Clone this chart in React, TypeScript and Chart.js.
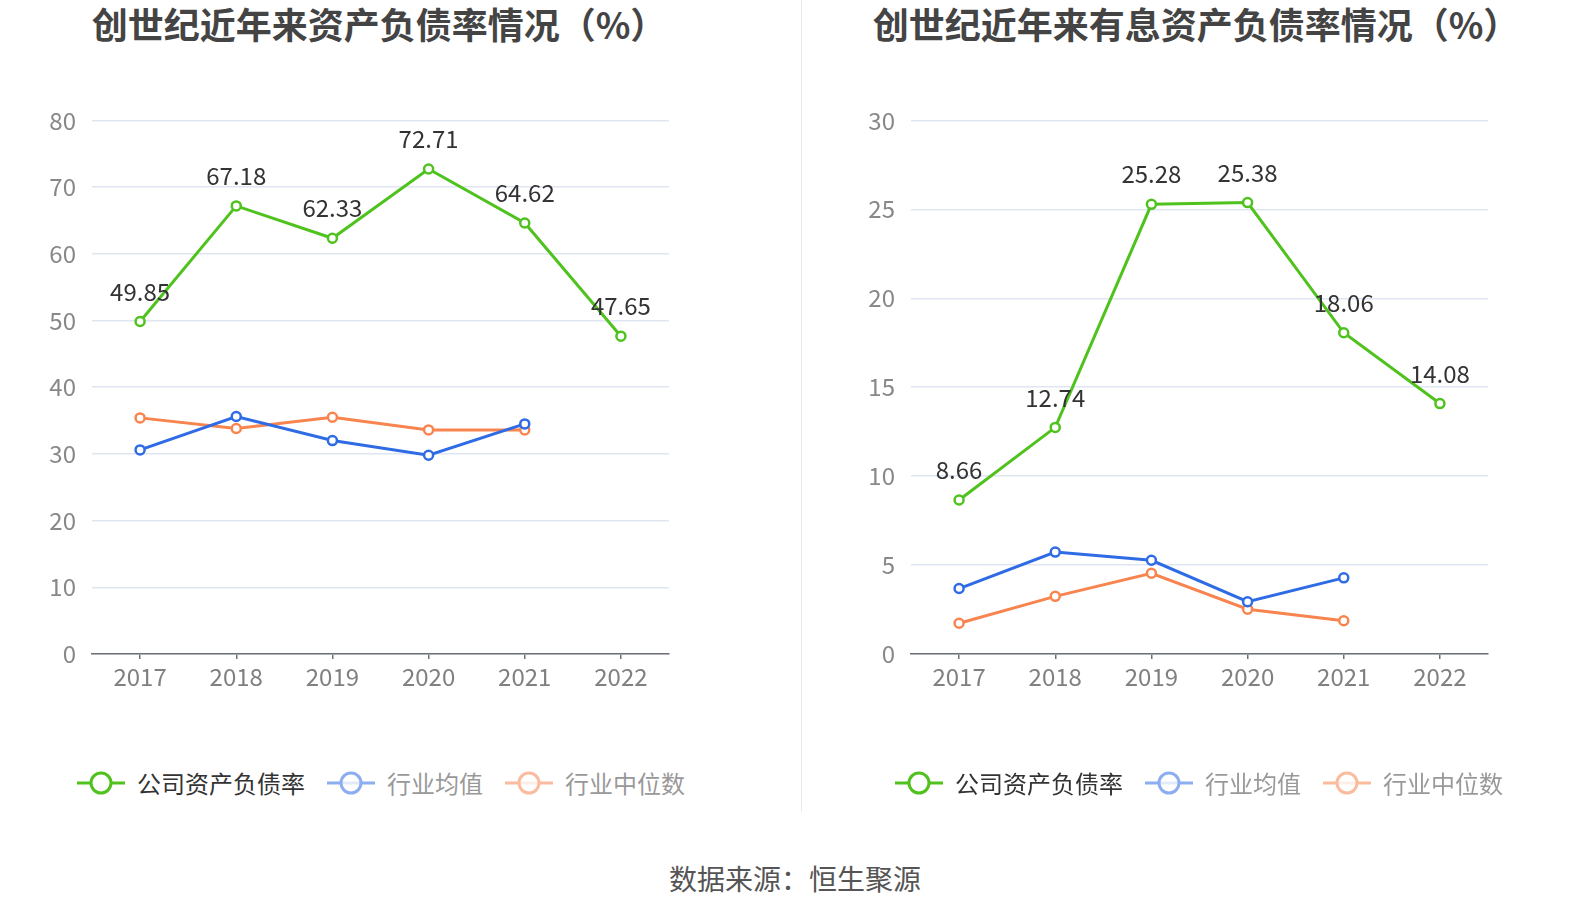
import React, { useEffect, useRef } from "react";
import { Chart, registerables } from "chart.js";

Chart.register(...registerables);

const years = ["2017", "2018", "2019", "2020", "2021", "2022"];

const debtRatioCompany = [49.85, 67.18, 62.33, 72.71, 64.62, 47.65];
const debtRatioIndustryAvg = [30.6, 35.6, 32.0, 29.8, 34.5, null];
const debtRatioIndustryMedian = [35.4, 33.8, 35.5, 33.6, 33.6, null];

const interestDebtCompany = [8.66, 12.74, 25.28, 25.38, 18.06, 14.08];
const interestDebtIndustryAvg = [3.68, 5.73, 5.27, 2.94, 4.28, null];
const interestDebtIndustryMedian = [1.73, 3.24, 4.54, 2.52, 1.87, null];

const legendLabels = ["公司资产负债率", "行业均值", "行业中位数"];
const leftTitle = "创世纪近年来资产负债率情况（%）";
const rightTitle = "创世纪近年来有息资产负债率情况（%）";
const sourceText = "数据来源：恒生聚源";

const GREEN = "#4FC21E";
const BLUE = "#2F6BE5";
const ORANGE = "#F8854F";
const FONT = '"Noto Sans CJK SC", "Noto Sans", sans-serif';

const labelPlugin = {
  id: "valueLabels",
  afterDatasetsDraw(chart: any) {
    const ctx = chart.ctx;
    const meta = chart.getDatasetMeta(0);
    const data = chart.data.datasets[0].data;
    ctx.save();
    ctx.font = `24px ${FONT}`;
    ctx.fillStyle = "#333333";
    ctx.textAlign = "center";
    ctx.textBaseline = "middle";
    meta.data.forEach((pt: any, i: number) => {
      const v = data[i];
      if (v == null) return;
      ctx.fillText(Number(v).toFixed(2), pt.x, pt.y - 30);
    });
    ctx.restore();
  },
};

function LineChart(props: {
  company: (number | null)[];
  avg: (number | null)[];
  median: (number | null)[];
  max: number;
  step: number;
  yWidth: number;
  rightPad: number;
}) {
  const ref = useRef<HTMLCanvasElement | null>(null);
  useEffect(() => {
    if (!ref.current) return;
    const mk = (label: string, data: any[], color: string) => ({
      label,
      data,
      borderColor: color,
      backgroundColor: "#ffffff",
      borderWidth: 3,
      pointRadius: 4.5,
      pointBorderWidth: 2.5,
      pointBackgroundColor: "#ffffff",
      pointBorderColor: color,
      tension: 0,
      spanGaps: false,
    });
    const chart = new Chart(ref.current, {
      type: "line",
      data: {
        labels: years,
        datasets: [
          mk(legendLabels[0], props.company, GREEN),
          mk(legendLabels[1], props.avg, BLUE),
          mk(legendLabels[2], props.median, ORANGE),
        ],
      },
      options: {
        animation: false,
        responsive: false,
        maintainAspectRatio: false,
        layout: { padding: { top: 30, right: props.rightPad, left: 0, bottom: 0 } },
        plugins: { legend: { display: false }, tooltip: { enabled: false }, title: { display: false } },
        scales: {
          x: {
            type: "category",
            offset: true,
            grid: {
              drawOnChartArea: false,
              drawTicks: true,
              tickLength: 5,
              color: "#6E7079",
              lineWidth: 1.5,
              offset: false,
            },
            border: { display: true, color: "#6E7079", width: 1.5 },
            ticks: { color: "#808080", font: { size: 24, family: FONT }, padding: 3, maxRotation: 0 },
            afterFit: (s: any) => {
              s.height = 56;
            },
          },
          y: {
            min: 0,
            max: props.max,
            grid: { color: "#E0E6F1", drawTicks: false, lineWidth: 1.5 },
            border: { display: false },
            ticks: { stepSize: props.step, color: "#888888", font: { size: 24, family: FONT }, padding: 16 },
            afterFit: (s: any) => {
              s.width = props.yWidth;
            },
          },
        },
      },
      plugins: [labelPlugin],
    } as any);
    return () => chart.destroy();
  }, []);
  return <canvas ref={ref} width={795} height={620} style={{ width: 795, height: 620, display: "block" }} />;
}

function LegendIcon(props: { color: string; faded: boolean }) {
  return (
    <svg width={48} height={26} style={{ display: "block" }}>
      <g opacity={props.faded ? 0.55 : 1}>
        <line x1={0} y1={13} x2={48} y2={13} stroke={props.color} strokeWidth={3} />
        <circle cx={24} cy={13} r={10} stroke={props.color} strokeWidth={3} fill="#ffffff" fillOpacity={props.faded ? 0.75 : 1} />
      </g>
    </svg>
  );
}

function Legend(props: { center: number }) {
  const items = [
    { label: legendLabels[0], color: GREEN, faded: false },
    { label: legendLabels[1], color: BLUE, faded: true },
    { label: legendLabels[2], color: ORANGE, faded: true },
  ];
  return (
    <div
      style={{
        position: "absolute",
        left: props.center - 400,
        width: 800,
        top: 768,
        height: 30,
        display: "flex",
        justifyContent: "center",
        alignItems: "center",
        fontFamily: FONT,
        fontSize: 24,
      }}
    >
      {items.map((it, i) => (
        <div key={i} style={{ display: "flex", alignItems: "center", marginLeft: i === 0 ? 0 : 22 }}>
          <LegendIcon color={it.color} faded={it.faded} />
          <span style={{ marginLeft: 12, color: it.faded ? "#999999" : "#333333", lineHeight: "30px" }}>{it.label}</span>
        </div>
      ))}
    </div>
  );
}

export default function App() {
  const titleStyle = (center: number): React.CSSProperties => ({
    position: "absolute",
    left: center - 400,
    width: 800,
    top: 0,
    textAlign: "center",
    fontFamily: FONT,
    fontWeight: 700,
    fontSize: 36,
    lineHeight: "46px",
    color: "#444444",
    whiteSpace: "nowrap",
  });
  return (
    <div style={{ position: "absolute", left: 0, top: 0, width: 1590, height: 918, background: "#ffffff", overflow: "hidden" }}>
      <div style={titleStyle(379)}>{leftTitle}</div>
      <div style={titleStyle(1196)}>{rightTitle}</div>
      <div style={{ position: "absolute", left: 0, top: 90 }}>
        <LineChart
          company={debtRatioCompany}
          avg={debtRatioIndustryAvg}
          median={debtRatioIndustryMedian}
          max={80}
          step={10}
          yWidth={92}
          rightPad={126}
        />
      </div>
      <div style={{ position: "absolute", left: 795, top: 90 }}>
        <LineChart
          company={interestDebtCompany}
          avg={interestDebtIndustryAvg}
          median={interestDebtIndustryMedian}
          max={30}
          step={5}
          yWidth={116}
          rightPad={102}
        />
      </div>
      <div style={{ position: "absolute", left: 801, top: 0, width: 1, height: 812, background: "#EBEBEB" }} />
      <Legend center={381} />
      <Legend center={1199} />
      <div
        style={{
          position: "absolute",
          left: 0,
          width: 1590,
          top: 859,
          textAlign: "center",
          fontFamily: FONT,
          fontSize: 28,
          lineHeight: "38px",
          color: "#555555",
        }}
      >
        {sourceText}
      </div>
    </div>
  );
}
